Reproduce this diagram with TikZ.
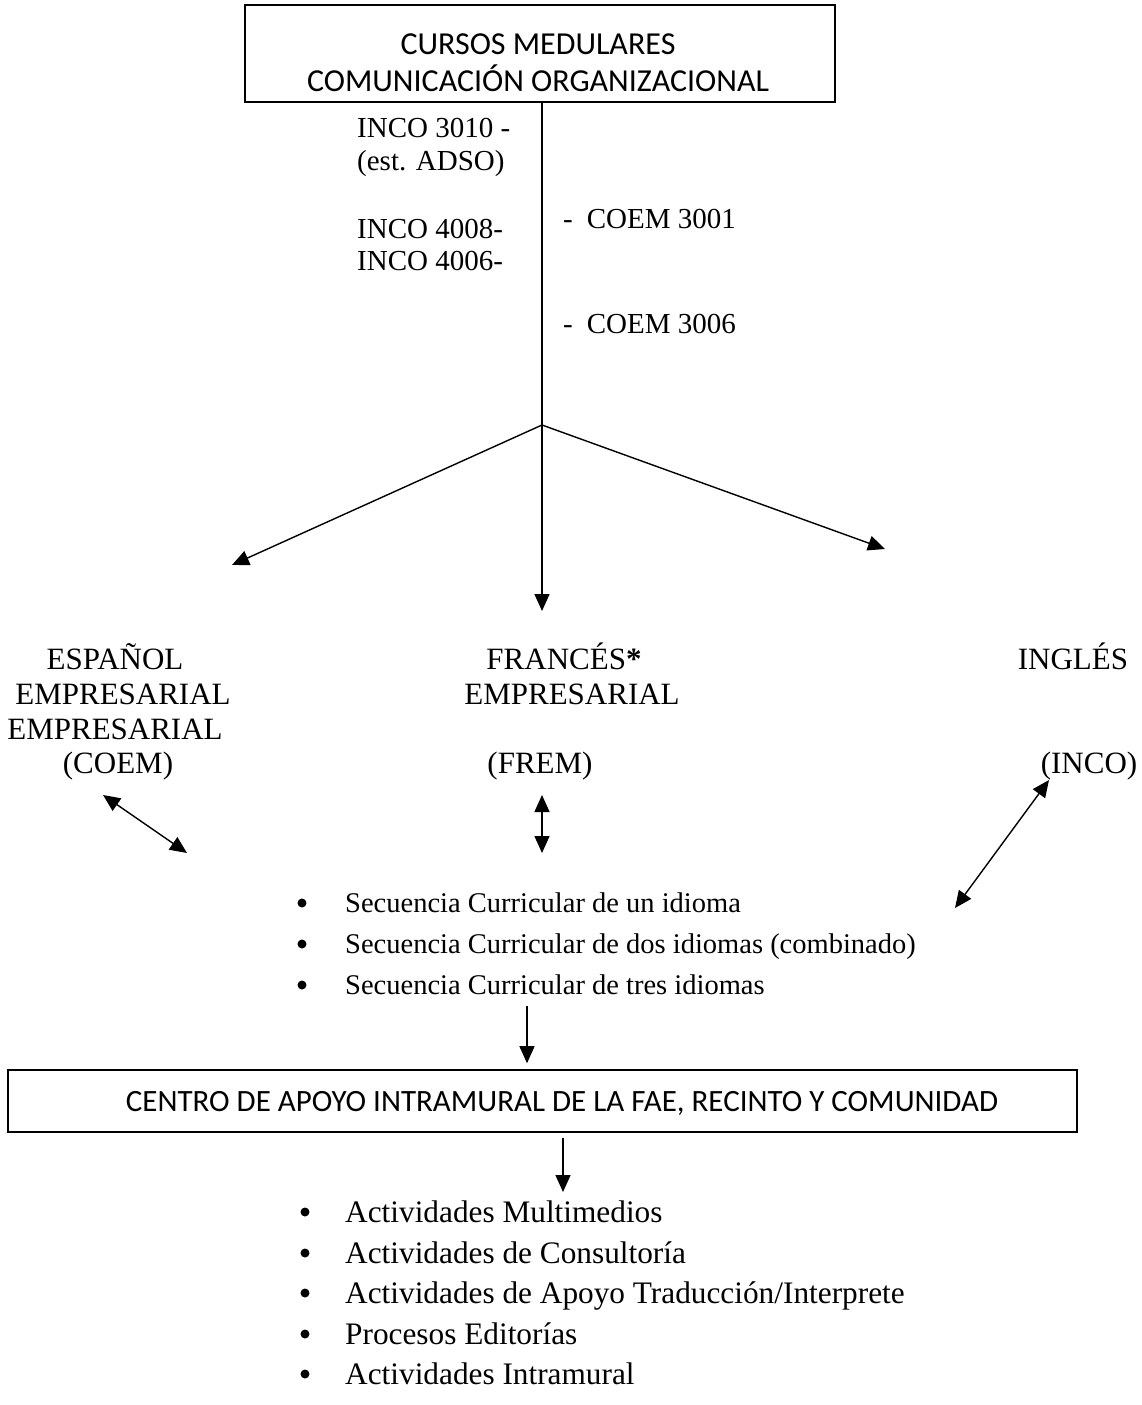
\documentclass[tikz,border=0pt]{standalone}
\usepackage{fontspec}
\setmainfont{Liberation Serif}
\newfontfamily\boxfont{Carlito}
\usetikzlibrary{arrows.meta}
\tikzset{
  x=1pt, y=-1pt,
  boxframe/.style={draw, line width=1.6pt, inner sep=0pt},
  boxtext/.style={font=\boxfont\fontsize{32}{37}\selectfont, align=center, inner sep=0pt},
  lbl/.style={font=\fontsize{29}{34}\selectfont, inner sep=0pt, anchor=base west},
  lang/.style={font=\fontsize{31}{34}\selectfont, inner sep=0pt, anchor=base},
  seq/.style={font=\fontsize{28.5}{34}\selectfont, inner sep=0pt, anchor=base west},
  act/.style={font=\fontsize{31.3}{36}\selectfont, inner sep=0pt, anchor=base west},
  bul/.style={circle, fill=black, inner sep=0pt, minimum size=9pt},
  conn/.style={line width=1.4pt},
  arr/.style={line width=1.4pt, -{Triangle[length=17pt, width=15pt]}},
  darr/.style={line width=1.4pt, {Triangle[length=17pt, width=15pt]}-{Triangle[length=17pt, width=15pt]}},
}
\begin{document}
\begin{tikzpicture}
\useasboundingbox (0,0) rectangle (1141,1405);
% top box
\node[boxframe, minimum width=590pt, minimum height=97pt] (top) at (540,53.5) {};
\node[boxtext] (toptext) at (538,63) {CURSOS MEDULARES\\COMUNICACIÓN ORGANIZACIONAL};
\coordinate (j) at (542,425);
\draw[conn] (top.south -| j) -- (j);
% course labels
\node[lbl] (i1) at (357,137) {INCO 3010 -};
\node[lbl] (i2) at (357,170) {(est. ADSO)};
\node[lbl] (i3) at (357,238) {INCO 4008-};
\node[lbl] (i4) at (357,270) {INCO 4006-};
\node[lbl] (c1) at (563,228) {-\hspace{14pt}COEM 3001};
\node[lbl] (c2) at (563,333) {-\hspace{14pt}COEM 3006};
% branch targets
\coordinate (tl) at (232,565);
\coordinate (tm) at (542,611);
\coordinate (tr) at (885,549);
\draw[arr] (j) -- (tl);
\draw[arr] (j) -- (tm);
\draw[arr] (j) -- (tr);
% language labels
\node[lang] (es1) at (115,669) {ESPAÑOL};
\node[lang] (es2) at (123,704) {EMPRESARIAL};
\node[lang] (es3) at (115,739) {EMPRESARIAL};
\node[lang] (es4) at (118,773) {(COEM)};
\node[lang] (fr1) at (564,669) {FRANCÉS\textbf{*}};
\node[lang] (fr2) at (572,704) {EMPRESARIAL};
\node[lang] (fr4) at (540,773) {(FREM)};
\node[lang] (en1) at (1073,669) {INGLÉS};
\node[lang] (en4) at (1089,773) {(INCO)};
% double arrows
\coordinate (dl1) at (103,795);
\coordinate (dl2) at (187,853);
\coordinate (dm1) at (542,795);
\coordinate (dm2) at (542,853);
\coordinate (dr1) at (1049,780);
\coordinate (dr2) at (955,908);
\draw[darr] (dl1) -- (dl2);
\draw[darr] (dm1) -- (dm2);
\draw[darr] (dr1) -- (dr2);
% sequence list
\node[bul] (b1) at (302,903) {};
\node[bul] (b2) at (302,944) {};
\node[bul] (b3) at (302,985) {};
\node[seq] (s1) at (345,912) {Secuencia Curricular de un idioma};
\node[seq] (s2) at (345,953) {Secuencia Curricular de dos idiomas (combinado)};
\node[seq] (s3) at (345,994) {Secuencia Curricular de tres idiomas};
% bottom box
\node[boxframe, minimum width=1069pt, minimum height=62pt] (bot) at (542.5,1101) {};
\node[boxtext, font=\boxfont\fontsize{31}{36}\selectfont] (bottext) at (562,1103) {CENTRO DE APOYO INTRAMURAL DE LA FAE, RECINTO Y COMUNIDAD};
\coordinate (a1) at (527,1006);
\draw[arr] (a1) -- ([yshift=6pt]a1 |- bot.north);
\coordinate (a2) at (563,1138);
\coordinate (a3) at (563,1192);
\draw[arr] (a2) -- (a3);
% activities list
\node[bul] (d1) at (305,1212) {};
\node[bul] (d2) at (305,1253) {};
\node[bul] (d3) at (305,1293) {};
\node[bul] (d4) at (305,1334) {};
\node[bul] (d5) at (305,1374) {};
\node[act] (t1) at (345,1222) {Actividades Multimedios};
\node[act] (t2) at (345,1263) {Actividades de Consultoría};
\node[act] (t3) at (345,1303) {Actividades de Apoyo Traducción/Interprete};
\node[act] (t4) at (345,1344) {Procesos Editorías};
\node[act] (t5) at (345,1384) {Actividades Intramural};
\end{tikzpicture}
\end{document}
